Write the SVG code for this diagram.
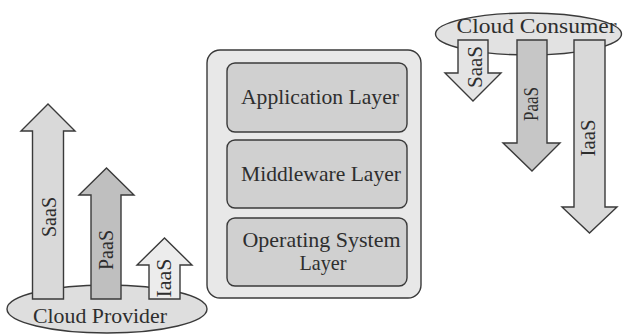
<svg xmlns="http://www.w3.org/2000/svg" width="624" height="334" viewBox="0 0 624 334">
<style>
.s{stroke:#3a3a3a;stroke-width:1.4;stroke-linejoin:miter}
text{font-family:'Liberation Serif','DejaVu Serif','Times New Roman',serif;fill:#2e2e2e;font-size:21px;text-anchor:middle}
.lbl{font-size:20px}
</style>
<rect width="624" height="334" fill="#ffffff"/>
<g id="cloud-provider">
<ellipse class="s" cx="107" cy="309" rx="100" ry="24" fill="#dedede"/>
</g>
<g id="cloud-consumer">
<ellipse class="s" cx="528.5" cy="34" rx="93" ry="21" fill="#e2e2e2"/>
</g>
<g id="connectors">
<g id="up-saas">
<polygon class="s" fill="#d9d9d9" points="32.5,299 32.5,131 21,131 48,104 75,131 63.5,131 63.5,299"/>
<text class="lbl" font-family="Liberation Serif, serif" transform="translate(56,217) rotate(-90)" textLength="40" lengthAdjust="spacingAndGlyphs">SaaS</text>
</g>
<g id="up-paas">
<polygon class="s" fill="#bfbfbf" points="91,299 91,195 79,195 106.5,168 134,195 121,195 121,299"/>
<text class="lbl" transform="translate(113,250) rotate(-90)" textLength="40" lengthAdjust="spacingAndGlyphs">PaaS</text>
</g>
<g id="up-iaas">
<polygon class="s" fill="#ececec" points="149,299 149,265 137,265 164.5,238 192,265 180,265 180,299"/>
<text class="lbl" transform="translate(171,278) rotate(-90)" textLength="39" lengthAdjust="spacingAndGlyphs">IaaS</text>
</g>
<g id="down-saas">
<polygon class="s" fill="#e4e4e4" points="458,40 488,40 488,73 501,73 473,101 445,73 458,73"/>
<text class="lbl" transform="translate(482,67) rotate(-90)" textLength="42" lengthAdjust="spacingAndGlyphs">SaaS</text>
</g>
<g id="down-paas">
<polygon class="s" fill="#c6c6c6" points="517,40 547,40 547,143 560,143 532,171 503,143 517,143"/>
<text class="lbl" transform="translate(538,104) rotate(-90)" textLength="34" lengthAdjust="spacingAndGlyphs">PaaS</text>
</g>
<g id="down-iaas">
<polygon class="s" fill="#d9d9d9" points="574,40 605,40 605,207 617,207 589.5,233 562,207 574,207"/>
<text class="lbl" transform="translate(595,138) rotate(-90)" textLength="37" lengthAdjust="spacingAndGlyphs">IaaS</text>
</g>
</g>
<g id="provider-label">
<text x="100" y="323" textLength="134" lengthAdjust="spacingAndGlyphs">Cloud Provider</text>
</g>
<g id="consumer-label">
<text x="536.5" y="33" textLength="160" lengthAdjust="spacingAndGlyphs">Cloud Consumer</text>
</g>
<g id="stack">
<rect class="s" x="207" y="50" width="214" height="248" rx="13" fill="#e8e8e8"/>
</g>
<g id="application-layer">
<rect class="s" x="227" y="63" width="180" height="69" rx="8" fill="#d0d0d0"/>
<text x="320" y="104" textLength="158" lengthAdjust="spacingAndGlyphs">Application Layer</text>
</g>
<g id="middleware-layer">
<rect class="s" x="227" y="140" width="180" height="68" rx="8" fill="#d0d0d0"/>
<text x="321" y="181" textLength="160" lengthAdjust="spacingAndGlyphs">Middleware Layer</text>
</g>
<g id="os-layer">
<rect class="s" x="227" y="218" width="180" height="68" rx="8" fill="#d0d0d0"/>
<text x="321.5" y="247" textLength="158" lengthAdjust="spacingAndGlyphs">Operating System</text>
<text x="323" y="270" textLength="47" lengthAdjust="spacingAndGlyphs">Layer</text>
</g>
</svg>
